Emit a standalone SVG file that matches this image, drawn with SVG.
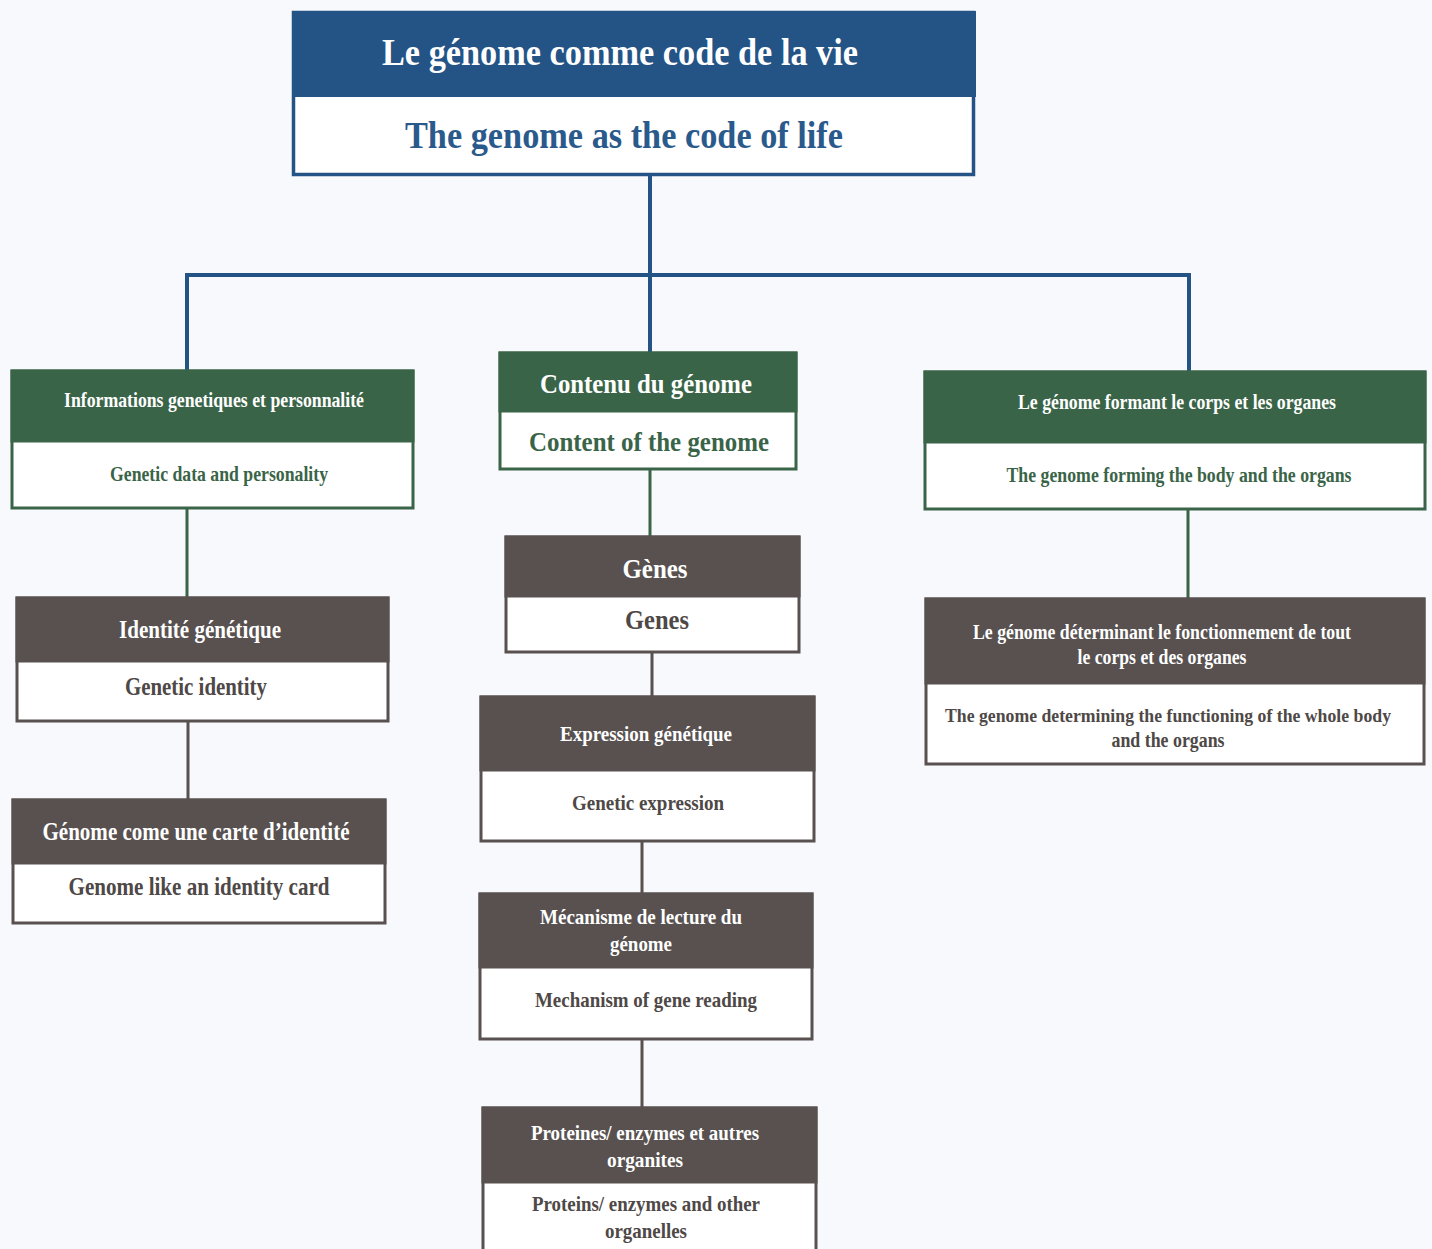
<svg xmlns="http://www.w3.org/2000/svg" width="1432" height="1249" viewBox="0 0 1432 1249">
  <style>
    text { font-family: "Liberation Serif", "DejaVu Serif", serif; font-weight: bold; text-anchor: middle; }
    .frame-blue { fill: #ffffff; stroke: #245386; stroke-width: 3.5; }
    .frame-green { fill: #ffffff; stroke: #3a6447; stroke-width: 3; }
    .frame-gray { fill: #ffffff; stroke: #585150; stroke-width: 3; }
    .head-blue { fill: #245386; }
    .head-green { fill: #3a6447; }
    .head-gray { fill: #585150; }
    .t-white { fill: #ffffff; }
    .t-blue { fill: #2a5a8c; }
    .t-green { fill: #3a6447; }
    .t-gray { fill: #4e4846; }
    .link-blue { fill: none; stroke: #245386; stroke-width: 4; }
    .link-green { fill: none; stroke: #3a6447; stroke-width: 3; }
    .link-gray { fill: none; stroke: #585150; stroke-width: 3; }
  </style>

  <rect width="1432" height="1249" fill="#f8f9fc"/>

  <!-- connectors -->
  <g id="connectors">
    <path class="link-blue" d="M650 176 V275 M187 370 V275 H1189 V372 M650 275 V352"/>
    <path class="link-green" d="M187 509 V597 M650 470 V536 M1188 510 V598"/>
    <path class="link-gray" d="M188 722 V799 M652 653 V696 M642 842 V893 M642 1040 V1107"/>
  </g>

  <!-- root -->
  <g id="root">
    <rect class="frame-blue" x="293.5" y="12.5" width="680" height="162"/>
    <rect class="head-blue" x="292" y="11" width="684" height="86"/>
    <text class="t-white" x="620" y="65" font-size="38" textLength="476" lengthAdjust="spacingAndGlyphs">Le génome comme code de la vie</text>
    <text class="t-blue" x="624" y="148" font-size="38" textLength="438" lengthAdjust="spacingAndGlyphs">The genome as the code of life</text>
  </g>

  <!-- first level -->
  <g id="genetic-data">
    <rect class="frame-green" x="12" y="371" width="401" height="137"/>
    <rect class="head-green" x="10.5" y="369.5" width="404" height="73"/>
    <text class="t-white" x="214" y="407" font-size="21" textLength="300" lengthAdjust="spacingAndGlyphs">Informations genetiques et personnalité</text>
    <text class="t-green" x="219" y="481" font-size="21" textLength="218" lengthAdjust="spacingAndGlyphs">Genetic data and personality</text>
  </g>

  <g id="genome-content">
    <rect class="frame-green" x="500" y="353" width="296" height="116"/>
    <rect class="head-green" x="498.5" y="351.5" width="299" height="61"/>
    <text class="t-white" x="646" y="393" font-size="28" textLength="212" lengthAdjust="spacingAndGlyphs">Contenu du génome</text>
    <text class="t-green" x="649" y="451" font-size="28" textLength="240" lengthAdjust="spacingAndGlyphs">Content of the genome</text>
  </g>

  <g id="body-organs">
    <rect class="frame-green" x="925" y="372" width="500" height="137"/>
    <rect class="head-green" x="923.5" y="370.5" width="503" height="73"/>
    <text class="t-white" x="1177" y="409" font-size="21" textLength="318" lengthAdjust="spacingAndGlyphs">Le génome formant le corps et les organes</text>
    <text class="t-green" x="1179" y="482" font-size="21" textLength="345" lengthAdjust="spacingAndGlyphs">The genome forming the body and the organs</text>
  </g>

  <!-- left column -->
  <g id="genetic-identity">
    <rect class="frame-gray" x="17" y="598" width="371" height="123"/>
    <rect class="head-gray" x="15.5" y="596.5" width="374" height="66"/>
    <text class="t-white" x="200" y="638" font-size="25" textLength="162" lengthAdjust="spacingAndGlyphs">Identité génétique</text>
    <text class="t-gray" x="196" y="695" font-size="25" textLength="142" lengthAdjust="spacingAndGlyphs">Genetic identity</text>
  </g>

  <g id="identity-card">
    <rect class="frame-gray" x="13" y="800" width="372" height="123"/>
    <rect class="head-gray" x="11.5" y="798.5" width="375" height="66"/>
    <text class="t-white" x="196" y="840" font-size="25" textLength="307" lengthAdjust="spacingAndGlyphs">Génome come une carte d’identité</text>
    <text class="t-gray" x="199" y="895" font-size="25" textLength="261" lengthAdjust="spacingAndGlyphs">Genome like an identity card</text>
  </g>

  <!-- centre column -->
  <g id="genes">
    <rect class="frame-gray" x="506" y="537" width="293" height="115"/>
    <rect class="head-gray" x="504.5" y="535.5" width="296" height="62"/>
    <text class="t-white" x="655" y="578" font-size="28" textLength="65" lengthAdjust="spacingAndGlyphs">Gènes</text>
    <text class="t-gray" x="657" y="629" font-size="28" textLength="64" lengthAdjust="spacingAndGlyphs">Genes</text>
  </g>

  <g id="genetic-expression">
    <rect class="frame-gray" x="481" y="697" width="333" height="144"/>
    <rect class="head-gray" x="479.5" y="695.5" width="336" height="76"/>
    <text class="t-white" x="646" y="741" font-size="22" textLength="172" lengthAdjust="spacingAndGlyphs">Expression génétique</text>
    <text class="t-gray" x="648" y="810" font-size="22" textLength="152" lengthAdjust="spacingAndGlyphs">Genetic expression</text>
  </g>

  <g id="gene-reading">
    <rect class="frame-gray" x="480" y="894" width="332" height="145"/>
    <rect class="head-gray" x="478.5" y="892.5" width="335" height="76"/>
    <text class="t-white" x="641" y="924" font-size="22" textLength="202" lengthAdjust="spacingAndGlyphs">Mécanisme de lecture du</text>
    <text class="t-white" x="641" y="951" font-size="22" textLength="62" lengthAdjust="spacingAndGlyphs">génome</text>
    <text class="t-gray" x="646" y="1007" font-size="22" textLength="222" lengthAdjust="spacingAndGlyphs">Mechanism of gene reading</text>
  </g>

  <g id="proteins">
    <rect class="frame-gray" x="483" y="1108" width="333" height="150"/>
    <rect class="head-gray" x="481.5" y="1106.5" width="336" height="77"/>
    <text class="t-white" x="645" y="1140" font-size="22" textLength="228" lengthAdjust="spacingAndGlyphs">Proteines/ enzymes et autres</text>
    <text class="t-white" x="645" y="1167" font-size="22" textLength="76" lengthAdjust="spacingAndGlyphs">organites</text>
    <text class="t-gray" x="646" y="1211" font-size="22" textLength="228" lengthAdjust="spacingAndGlyphs">Proteins/ enzymes and other</text>
    <text class="t-gray" x="646" y="1238" font-size="22" textLength="82" lengthAdjust="spacingAndGlyphs">organelles</text>
  </g>

  <!-- right column -->
  <g id="body-functioning">
    <rect class="frame-gray" x="926" y="599" width="498" height="165"/>
    <rect class="head-gray" x="924.5" y="597.5" width="501" height="87"/>
    <text class="t-white" x="1162" y="639" font-size="21" textLength="378" lengthAdjust="spacingAndGlyphs">Le génome déterminant le fonctionnement de tout</text>
    <text class="t-white" x="1162" y="664" font-size="21" textLength="169" lengthAdjust="spacingAndGlyphs">le corps et des organes</text>
    <text class="t-gray" x="1168" y="722" font-size="19" textLength="446" lengthAdjust="spacingAndGlyphs">The genome determining the functioning of the whole body</text>
    <text class="t-gray" x="1168" y="747" font-size="21" textLength="113" lengthAdjust="spacingAndGlyphs">and the organs</text>
  </g>
</svg>
